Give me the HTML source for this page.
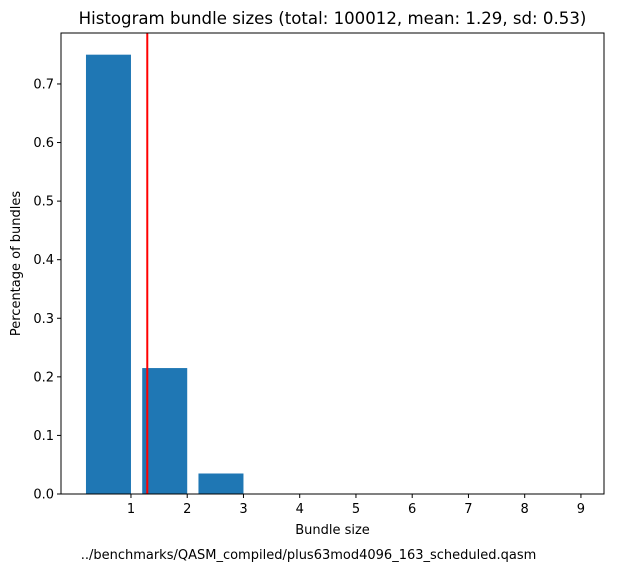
<!DOCTYPE html>
<html><head><meta charset="utf-8"><style>
body{margin:0;background:#fff;}
svg{display:block;font-family:"DejaVu Sans","Liberation Sans",sans-serif;}
</style></head><body>
<svg id="chart" width="617" height="573"></svg>
<script>
const categories=[1,2,3,4,5,6,7,8,9];
const values=[0.75,0.215,0.035,0,0,0,0,0,0];
const meanValue=[1.29];
const yTicks=[0,0.1,0.2,0.3,0.4,0.5,0.6,0.7];
const xTicks=[1,2,3,4,5,6,7,8,9];
const titleText="Histogram bundle sizes (total: 100012, mean: 1.29, sd: 0.53)";

const L=61,R=604,T=33,B=494;
const xmin=-0.244,xmax=9.41,ymin=0,ymax=0.787;
const sx=v=>L+(v-xmin)/(xmax-xmin)*(R-L);
const sy=v=>B-(v-ymin)/(ymax-ymin)*(B-T);
const svg=document.getElementById('chart');
const NS="http://www.w3.org/2000/svg";
function mk(tag,attrs,parent){const e=document.createElementNS(NS,tag);for(const k in attrs)e.setAttribute(k,attrs[k]);(parent||svg).appendChild(e);return e;}

categories.forEach((c,i)=>{
  const x0=sx(c-0.8),x1=sx(c);
  const r=mk('rect',{x:x0,y:sy(values[i]),width:x1-x0,height:sy(0)-sy(values[i]),fill:'#1f77b4'});
  
  
});
const ml=mk('line',{x1:sx(meanValue[0]),x2:sx(meanValue[0]),y1:T,y2:B,stroke:'#ff0000','stroke-width':2});



const fr=mk('rect',{x:L,y:T,width:R-L,height:B-T,fill:'none',stroke:'#000','stroke-width':1});



yTicks.forEach(v=>{
  const y=sy(v);
  mk('line',{x1:L-4,x2:L,y1:y,y2:y,stroke:'#000'});
  const t=mk('text',{x:L-7,y:y+4.5,'text-anchor':'end','font-size':13});
  t.textContent=v.toFixed(1);
  
  
});
xTicks.forEach(v=>{
  const x=sx(v);
  mk('line',{x1:x,x2:x,y1:B,y2:B+4,stroke:'#000'});
  const t=mk('text',{x:x,y:B+19,'text-anchor':'middle','font-size':13});
  t.textContent=v;
  
  
});
const tt=mk('text',{x:(L+R)/2,y:24,'text-anchor':'middle','font-size':16.6});
tt.textContent=titleText;


const xl=mk('text',{x:(L+R)/2,y:534,'text-anchor':'middle','font-size':13});
xl.textContent="Bundle size";


const fn=mk('text',{x:(L+R)/2-24,y:559,'text-anchor':'middle','font-size':13});
fn.textContent="../benchmarks/QASM_compiled/plus63mod4096_163_scheduled.qasm";


const yl=mk('text',{x:20,y:(T+B)/2,'text-anchor':'middle','font-size':13,transform:'rotate(-90 20 '+((T+B)/2)+')'});
yl.textContent="Percentage of bundles";


</script>
</body></html>
